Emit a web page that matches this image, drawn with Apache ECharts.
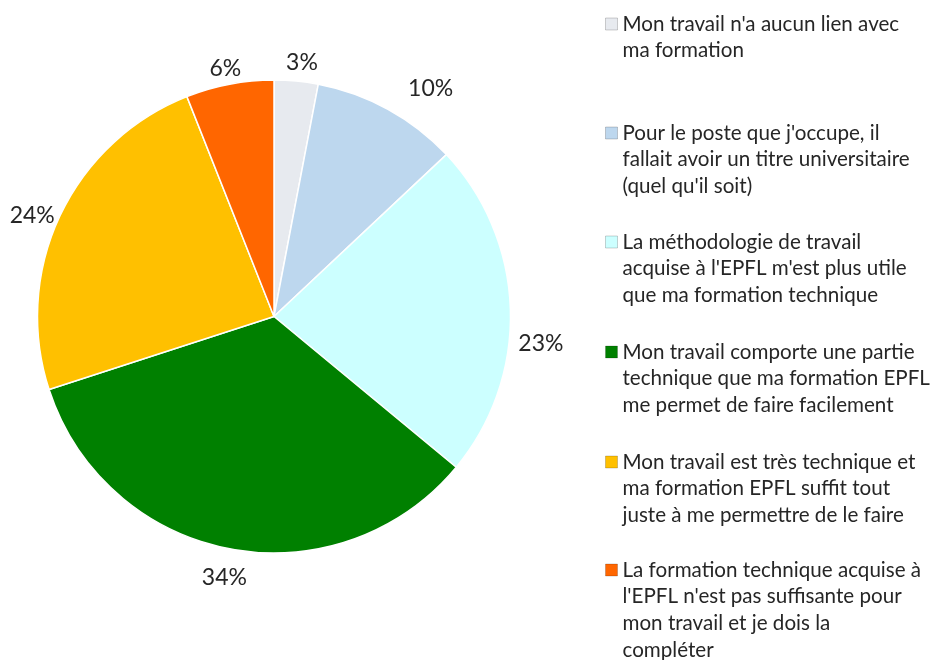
<!DOCTYPE html>
<html>
<head>
<meta charset="utf-8">
<script src="https://cdn.jsdelivr.net/npm/echarts@6/dist/echarts.min.js"></script>
<style>
html,body{margin:0;padding:0;background:#fff;}
#chart{width:930px;height:660px;}
</style>
</head>
<body>
<div id="chart"></div>
<script>
// Category labels (wrapped as in the legend)
const categoryLines = [
  ["Mon travail n'a aucun lien avec", "ma formation"],
  ["Pour le poste que j'occupe, il", "fallait avoir un titre universitaire", "(quel qu'il soit)"],
  ["La méthodologie de travail", "acquise à l'EPFL m'est plus utile", "que ma formation technique"],
  ["Mon travail comporte une partie", "technique que ma formation EPFL", "me permet de faire facilement"],
  ["Mon travail est très technique et", "ma formation EPFL suffit tout", "juste à me permettre de le faire"],
  ["La formation technique acquise à", "l'EPFL n'est pas suffisante pour", "mon travail et je dois la", "compléter"]
];
// Percentages
const values = [3, 10, 23, 34, 24, 6];
const colors = ["#E7EAEF", "#BDD7EE", "#CCFFFF", "#008000", "#FFC000", "#FF6600"];

const categories = categoryLines.map(l => l.join(" "));

// ---- layout / style settings (not data) ----
const FONT = "Lato";
const LH = 26.7;
const legendFirstLineY = [24, 133, 242, 352, 462, 570];
const labelNudge = [[3, 10], [29, 4], [2, 35], [0, 1], [-2, 12], [1, 12]];
const CENTER = [274, 316.5];

const pieData = categories.map((n, i) => ({ name: n, value: values[i], itemStyle: { color: colors[i] } }));

const legends = categoryLines.map((lines, i) => {
  const n = lines.length;
  // prepend empty lines so the icon (centred on the text block) lines up with the first line
  const txt = new Array(n - 1).fill('').concat(lines).join('\n');
  return {
    orient: 'vertical',
    left: 605,
    top: legendFirstLineY[i] - (2 * n - 1) * LH / 2,
    padding: 0,
    itemWidth: 12,
    itemHeight: 12,
    itemGap: 0,
    icon: 'rect',
    selectedMode: false,
    itemStyle: { borderColor: 'rgba(0,0,0,0.18)', borderWidth: 1 },
    data: [categories[i]],
    formatter: () => txt,
    textStyle: {
      fontFamily: FONT,
      fontSize: 20.6,
      color: '#262626',
      lineHeight: LH
    }
  };
});

const chart = echarts.init(document.getElementById('chart'), null, { renderer: 'canvas' });
chart.setOption({
  backgroundColor: '#fff',
  animation: false,
  legend: legends,
  series: [
    {
      type: 'pie',
      center: CENTER,
      radius: [0, 236.5],
      startAngle: 90,
      clockwise: true,
      avoidLabelOverlap: false,
      label: { show: false },
      labelLine: { show: false },
      itemStyle: { borderColor: '#fff', borderWidth: 1.5 },
      emphasis: { disabled: true },
      data: pieData
    },
    {
      type: 'pie',
      center: CENTER,
      radius: [248, 276],
      startAngle: 90,
      clockwise: true,
      silent: true,
      avoidLabelOverlap: false,
      itemStyle: { color: 'rgba(0,0,0,0)', borderWidth: 0 },
      label: {
        show: true,
        position: 'inside',
        formatter: '{c}%',
        fontFamily: FONT,
        fontSize: 23,
        color: '#262626'
      },
      labelLine: { show: false },
      emphasis: { disabled: true },
      data: pieData.map((d, i) => ({
        name: d.name,
        value: d.value,
        itemStyle: { color: 'rgba(0,0,0,0)' },
        label: { offset: labelNudge[i] }
      }))
    }
  ]
});
</script>
</body>
</html>
